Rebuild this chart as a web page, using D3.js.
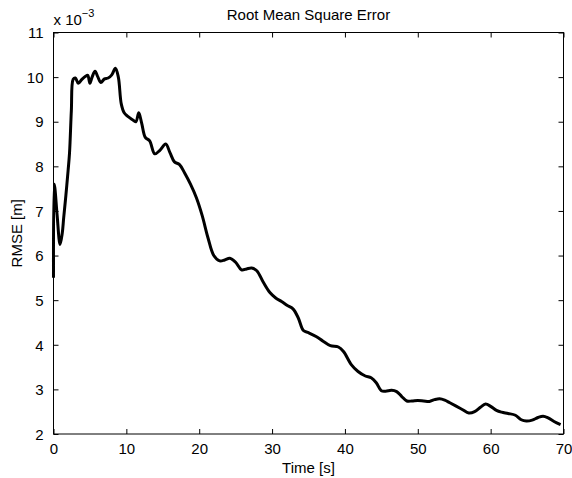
<!DOCTYPE html>
<meta charset="utf-8">
<title>Root Mean Square Error</title>
<style>
    body { margin: 0; background: #fff; }
    svg { display: block; }
    text { font-family: "Liberation Sans", Arial, sans-serif; fill: #000; }
    .frame { fill: none; stroke: #000; stroke-width: 1px; }
    .line { fill: none; stroke: #000; stroke-width: 3px; stroke-linejoin: round; }
</style>
<body>
<div id="chart"></div>
<script src="https://d3js.org/d3.v7.min.js"></script>
<script>
// time in seconds
var times = [0, 0.1, 0.2, 0.5, 0.9, 1.2, 1.4, 1.7, 2.0, 2.2,
    2.45, 2.7, 3.0, 3.4, 3.9, 4.4, 4.7, 5.0, 5.3, 5.7,
    6.1, 6.5, 7.0, 7.5, 8.0, 8.5, 8.9, 9.3, 9.7, 10.2,
    10.8, 11.3, 11.7, 12.1, 12.6, 13.2, 13.9, 14.6, 15.4, 16.0,
    16.6, 17.3, 18.0, 18.8, 19.6, 20.4, 21.2, 22.0, 22.8, 23.5,
    24.2, 25.0, 25.8, 26.5, 27.2, 27.9, 28.8, 29.7, 30.5, 31.3,
    32.1, 32.9, 33.6, 34.3, 35.0, 36.1, 37.0, 38.0, 39.1, 39.8,
    40.9, 41.8, 42.8, 43.6, 44.3, 45.0, 45.6, 46.4, 47.1, 47.8,
    48.5, 49.2, 50.0, 50.8, 51.6, 52.3, 53.0, 53.7, 54.4, 55.2,
    56.1, 57.0, 57.8, 58.6, 59.3, 60.0, 60.8, 61.5, 62.4, 63.4,
    64.2, 64.9, 65.7, 66.5, 67.2, 67.9, 68.7, 69.6];

// RMSE in units of 1e-3 m
var rmse = [5.5, 7.6, 7.5, 6.9, 6.25, 6.5, 6.85, 7.35, 7.9, 8.3,
    9.25, 9.95, 9.98, 9.86, 9.95, 10.02, 10.04, 9.86, 10.0, 10.13,
    10.0, 9.88, 9.96, 9.98, 10.05, 10.2, 10.0, 9.4, 9.2, 9.12,
    9.05, 9.0, 9.2, 8.97, 8.65, 8.57, 8.28, 8.36, 8.5, 8.3,
    8.1, 8.04, 7.85, 7.6, 7.3, 6.9, 6.4, 6.0, 5.88, 5.9,
    5.94, 5.85, 5.68, 5.7, 5.72, 5.66, 5.4, 5.17, 5.05, 4.97,
    4.88, 4.8, 4.6, 4.32, 4.27, 4.18, 4.08, 3.98, 3.95, 3.85,
    3.55, 3.4, 3.3, 3.26, 3.15, 2.97, 2.96, 2.98, 2.95, 2.84,
    2.74, 2.74, 2.75, 2.74, 2.73, 2.77, 2.79, 2.76, 2.7, 2.63,
    2.55, 2.47, 2.5, 2.6, 2.67, 2.62, 2.53, 2.49, 2.46, 2.42,
    2.32, 2.29, 2.31, 2.37, 2.40, 2.36, 2.28, 2.21];

var xTicks = [0, 10, 20, 30, 40, 50, 60, 70];
var yTicks = [2, 3, 4, 5, 6, 7, 8, 9, 10, 11];

var data = times.map(function (t, i) { return { t: t, v: rmse[i] }; });

var W = 572, H = 478;
var margin = { top: 32.5, right: 8.5, bottom: 44, left: 53.5 },
    width = W - margin.left - margin.right,
    height = H - margin.top - margin.bottom;

var x = d3.scaleLinear().domain([0, 70]).range([0, width]);
var y = d3.scaleLinear().domain([2, 11]).range([height, 0]);

var svg = d3.select("#chart").append("svg")
    .attr("width", W)
    .attr("height", H)
    .append("g")
    .attr("transform", "translate(" + margin.left + "," + margin.top + ")");

var tickLen = 5;

// bottom axis with labels, inward ticks
var xAxis = svg.append("g")
    .attr("transform", "translate(0," + height + ")")
    .call(d3.axisBottom(x).tickValues(xTicks).tickSizeInner(-tickLen).tickSizeOuter(0).tickPadding(9));
// top ticks
var xTop = svg.append("g")
    .call(d3.axisTop(x).tickValues(xTicks).tickSizeInner(-tickLen).tickSizeOuter(0).tickFormat(""));
// left axis
var yAxis = svg.append("g")
    .call(d3.axisLeft(y).tickValues(yTicks).tickSizeInner(-tickLen).tickSizeOuter(0).tickPadding(10));
// right ticks
var yRight = svg.append("g")
    .attr("transform", "translate(" + width + ",0)")
    .call(d3.axisRight(y).tickValues(yTicks).tickSizeInner(-tickLen).tickSizeOuter(0).tickFormat(""));

[xAxis, xTop, yAxis, yRight].forEach(function (g) {
    g.select(".domain").remove();
    g.selectAll("line").attr("stroke", "#000");
    g.selectAll("text").attr("font-size", "15px").attr("font-family", "Liberation Sans, Arial, sans-serif");
});
yAxis.selectAll("text").attr("dy", "0.35em");

// box
svg.append("rect")
    .attr("class", "frame")
    .attr("x", 0).attr("y", 0)
    .attr("width", width).attr("height", height);

// the curve
var valueline = d3.line()
    .x(function (d) { return x(d.t); })
    .y(function (d) { return y(d.v); })
    .curve(d3.curveCatmullRom.alpha(0.5));

svg.append("path")
    .datum(data)
    .attr("class", "line")
    .attr("d", valueline);

// title
svg.append("text")
    .attr("x", width / 2)
    .attr("y", -13)
    .attr("text-anchor", "middle")
    .attr("font-size", "15px")
    .text("Root Mean Square Error");

// x label
svg.append("text")
    .attr("x", width / 2)
    .attr("y", height + 39)
    .attr("text-anchor", "middle")
    .attr("font-size", "15px")
    .text("Time [s]");

// y label
svg.append("text")
    .attr("transform", "rotate(-90)")
    .attr("x", -height / 2)
    .attr("y", -32)
    .attr("text-anchor", "middle")
    .attr("font-size", "15px")
    .text("RMSE [m]");

// exponent
var expo = svg.append("text")
    .attr("x", 0)
    .attr("y", -8)
    .attr("font-size", "15px");
expo.append("tspan").text("x 10");
expo.append("tspan").attr("dy", -8).attr("font-size", "11px").text("\u22123");
</script>
</body>
